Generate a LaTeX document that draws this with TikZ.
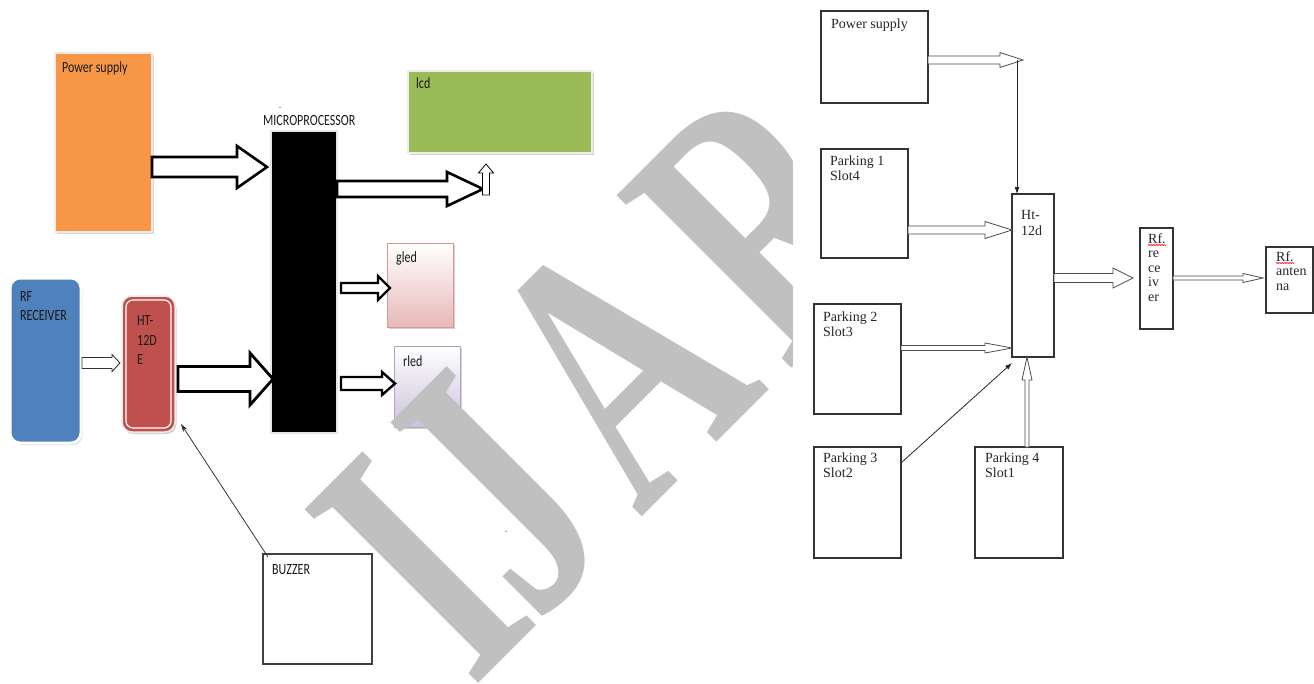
\documentclass[tikz,border=0pt]{standalone}
\usepackage{fontspec}
\setmainfont{Liberation Serif}
\newfontfamily\calfont{Carlito}
\usetikzlibrary{arrows.meta,calc,shadows,decorations.pathmorphing}

\definecolor{psorange}{HTML}{F79646}
\definecolor{lcdgreen}{HTML}{9BBB59}
\definecolor{rfblue}{HTML}{4F81BD}
\definecolor{htred}{HTML}{C0504D}
\definecolor{gledpink}{HTML}{E6B9B8}
\definecolor{gledline}{HTML}{D99694}
\definecolor{rledlav}{HTML}{CCC1DA}
\definecolor{rledline}{HTML}{B3A2C7}
\definecolor{wmgrey}{HTML}{C0C0C0}
\definecolor{boxline}{HTML}{333333}

% outlined block arrow pointing right: [style]{tail}{tip}{shaft half}{head half}{head length}
\newcommand{\harrow}[6][]{%
  \draw[#1] let \p1=(#2), \p2=(#3) in
    (\x1,\y1+#4pt) -- (\x2-#6pt,\y1+#4pt) -- (\x2-#6pt,\y1+#5pt) -- (\x2,\y1)
    -- (\x2-#6pt,\y1-#5pt) -- (\x2-#6pt,\y1-#4pt) -- (\x1,\y1-#4pt) -- cycle;}
% outlined block arrow pointing up
\newcommand{\varrow}[6][]{%
  \draw[#1] let \p1=(#2), \p2=(#3) in
    (\x1-#4pt,\y1) -- (\x1-#4pt,\y2-#6pt) -- (\x1-#5pt,\y2-#6pt) -- (\x1,\y2)
    -- (\x1+#5pt,\y2-#6pt) -- (\x1+#4pt,\y2-#6pt) -- (\x1+#4pt,\y1) -- cycle;}

\tikzset{
  officebox/.style={anchor=north west, inner sep=0pt, outer sep=0pt,
    draw=black!7, line width=2.5pt,
    drop shadow={shadow xshift=1.5pt, shadow yshift=-2pt, fill=black!35, opacity=0.5}},
  ledbox/.style={anchor=north west, inner sep=0pt, outer sep=0pt, line width=1pt,
    drop shadow={shadow xshift=1.5pt, shadow yshift=-2pt, fill=black!35, opacity=0.5}},
  plainbox/.style={anchor=north west, inner sep=0pt, outer sep=0pt,
    draw=boxline, line width=1.2pt},
  ltext/.style={anchor=base west, inner sep=0pt, font=\calfont\fontsize{12}{14}\selectfont,
    yscale=1.3, text=black!90},
  rtext/.style={anchor=base west, inner sep=0pt, font=\fontsize{14}{15}\selectfont, text=black!85},
  boldarrow/.style={draw=black, fill=white, line join=miter, line width=2.6pt},
  outlinearrow/.style={draw=black!70, fill=white, line join=miter, line width=0.8pt},
  thinarrow/.style={draw=black!85, line width=0.8pt, -{Latex[length=7pt,width=5pt]}},
  wm/.style={font=\fontsize{375}{375}\bfseries\selectfont, text=wmgrey, inner sep=0pt,
    anchor=base, rotate=45, xscale=0.68},
  spell/.style={draw=red, line width=0.5pt, decorate,
    decoration={zigzag, amplitude=0.5pt, segment length=1.6pt}}
}

\begin{document}
\begin{tikzpicture}[x=1pt,y=-1pt]
\useasboundingbox (0,0) rectangle (1314,683);
\fill[white] (0,0) rectangle (1314,683);

% ---------------- receiver side ----------------
\node[officebox, fill=psorange, minimum width=97, minimum height=179] (ps) at (55,53) {};
\node[ltext] (pst) at (62,72) {Power supply};

\node[anchor=north west, inner sep=0pt, outer sep=0pt, fill=black, draw=black!10,
      line width=2.5pt, minimum width=66, minimum height=302] (mp) at (271,131) {};
\node[ltext] (mpt) at (263,125) {MICROPROCESSOR};
\node[ltext, font=\calfont\fontsize{8}{8}\selectfont] (mpdot) at (279,108) {.};

\node[officebox, fill=lcdgreen, minimum width=184, minimum height=82] (lcd) at (408,71) {};
\node[ltext] (lcdt) at (416,88) {lcd};

\node[ledbox, draw=gledline, top color=white, bottom color=gledpink,
      minimum width=66, minimum height=84] (gled) at (387,243) {};
\node[ltext] (gledt) at (396,262) {gled};

\node[ledbox, draw=rledline, top color=white, bottom color=rledlav,
      minimum width=66, minimum height=81] (rled) at (394,346) {};
\node[ltext] (rledt) at (403,366) {rled};

\node[officebox, fill=rfblue, rounded corners=10pt, draw=white, line width=3pt,
      minimum width=71, minimum height=165] (rf) at (10,278) {};
\node[ltext] (rft1) at (20,301) {RF};
\node[ltext] (rft2) at (20,320) {RECEIVER};

\node[officebox, fill=htred, rounded corners=10pt, draw=black!8, line width=1.5pt,
      minimum width=53, minimum height=136] (ht) at (122,296) {};
\draw[white, line width=1.2pt, rounded corners=7pt]
  ($(ht.north west)+(4,4)$) rectangle ($(ht.south east)+(-4,-4)$);
\node[ltext] (htt1) at (137,325) {HT-};
\node[ltext] (htt2) at (137,345) {12D};
\node[ltext] (htt3) at (137,364) {E};

\node[plainbox, draw=black!75, line width=1.1pt, minimum width=109, minimum height=110] (bz) at (263,554) {};
\node[ltext] (bzt) at (272,574) {BUZZER};
\node[ltext, font=\calfont\fontsize{8}{8}\selectfont] (dot2) at (505,532) {.};

% block arrows of the receiver side
\coordinate (a1t) at ($(ps.east)+(0,24.5)$);
\coordinate (a1h) at ($(mp.west |- a1t)+(-4,0)$);
\harrow[boldarrow]{a1t}{a1h}{10}{21}{30}

\coordinate (a2t) at ($(mp.east)+(0,-93)$);
\coordinate (a2h) at ($(lcd.south west)+(75,36)$);
\harrow[boldarrow]{a2t}{a2h}{8}{17}{36}

\coordinate (a3t) at ($(lcd.south)+(-14,42)$);
\coordinate (a3h) at ($(lcd.south)+(-14,11)$);
\varrow[boldarrow, line width=0.8pt]{a3t}{a3h}{3.5}{7.5}{9}

\coordinate (a4t) at ($(mp.east)+(4,6)$);
\coordinate (a4h) at ($(gled.west |- a4t)+(3,0)$);
\harrow[boldarrow, line width=2.4pt]{a4t}{a4h}{5}{12}{12}

\coordinate (a5t) at ($(mp.east)+(4,101.5)$);
\coordinate (a5h) at ($(rled.west |- a5t)+(1,0)$);
\harrow[boldarrow, line width=2.4pt]{a5t}{a5h}{6.5}{11.5}{13}

\coordinate (a6t) at ($(rf.east)+(1,2.5)$);
\coordinate (a6h) at ($(ht.west |- a6t)+(-2,0)$);
\harrow[outlinearrow, draw=black!80, line width=0.9pt]{a6t}{a6h}{5.5}{8.5}{8}

\coordinate (a7t) at ($(ht.east)+(3,15)$);
\coordinate (a7h) at ($(mp.west |- a7t)+(2,0)$);
\harrow[boldarrow, line width=2.8pt]{a7t}{a7h}{12.5}{26}{23}

\draw[draw=black!80, line width=0.8pt, -{Stealth[length=8pt,width=5pt]}]
  ($(bz.north west)+(5,3)$) -- ($(ht.south east)+(6,-8)$);

% ---------------- watermark ----------------
\node[wm] (wmi) at (508,654) {I};
\node[wm] (wmj) at (581,580) {J};
\node[wm] (wma) at (706,453) {A};
\node[wm] (wmr) at (853,307) {R};

\fill[white] (793,0) rectangle (1314,575);

% ---------------- transmitter side ----------------
\node[plainbox, minimum width=107, minimum height=92] (rps) at (821,11) {};
\node[rtext] (rpst) at (831,28) {Power supply};

\node[plainbox, minimum width=87, minimum height=109] (p1) at (821,149) {};
\node[rtext] (p1t1) at (830,165) {Parking 1};
\node[rtext] (p1t2) at (830,180) {Slot4};

\node[plainbox, minimum width=87, minimum height=110] (p2) at (814,304) {};
\node[rtext] (p2t1) at (823,321) {Parking 2};
\node[rtext] (p2t2) at (823,336) {Slot3};

\node[plainbox, minimum width=87, minimum height=111] (p3) at (814,447) {};
\node[rtext] (p3t1) at (823,462) {Parking 3};
\node[rtext] (p3t2) at (823,477) {Slot2};

\node[plainbox, minimum width=88, minimum height=111] (p4) at (975,447) {};
\node[rtext] (p4t1) at (985,462) {Parking 4};
\node[rtext] (p4t2) at (985,477) {Slot1};

\node[plainbox, minimum width=42, minimum height=163] (hd) at (1012,194) {};
\node[rtext] (hdt1) at (1021,219) {Ht-};
\node[rtext] (hdt2) at (1021,235) {12d};

\node[plainbox, minimum width=33, minimum height=101] (rfr) at (1140,228) {};
\node[rtext] (rfr1) at (1148,243) {Rf.};
\node[rtext] (rfr2) at (1148,257.5) {re};
\node[rtext] (rfr3) at (1148,272) {ce};
\node[rtext] (rfr4) at (1148,286.5) {iv};
\node[rtext] (rfr5) at (1148,301) {er};
\draw[spell] ($(rfr1.base west)+(0,2)$) -- ($(rfr1.base east)+(0,2)$);

\node[plainbox, minimum width=47, minimum height=66] (rfa) at (1266,247) {};
\node[rtext] (rfa1) at (1276,261) {Rf.};
\node[rtext] (rfa2) at (1276,275.5) {anten};
\node[rtext] (rfa3) at (1276,290) {na};
\draw[spell] ($(rfa1.base west)+(0,2)$) -- ($(rfa1.base east)+(0,2)$);

% outlined arrows of the transmitter side
\coordinate (r1t) at ($(rps.east)+(0,3)$);
\coordinate (r1h) at ($(hd.north west |- r1t)+(11,0)$);
\harrow[outlinearrow]{r1t}{r1h}{4}{7.5}{23}

\coordinate (r2t) at ($(p1.east)+(0,26.5)$);
\coordinate (r2h) at (hd.west |- r2t);
\harrow[outlinearrow]{r2t}{r2h}{4}{8.5}{27}

\coordinate (r3t) at ($(p2.east)+(0,-11)$);
\coordinate (r3h) at (hd.west |- r3t);
\harrow[outlinearrow]{r3t}{r3h}{2.5}{5}{27}

\coordinate (r4t) at ($(hd.east)+(0,2.5)$);
\coordinate (r4h) at ($(rfr.west |- r4t)+(-7,0)$);
\harrow[outlinearrow]{r4t}{r4h}{4.5}{10}{20}

\coordinate (r5t) at ($(rfr.east)+(0,-0.5)$);
\coordinate (r5h) at ($(rfa.west |- r5t)+(-3,0)$);
\harrow[outlinearrow]{r5t}{r5h}{2}{4.5}{20}

\coordinate (r6t) at ($(p4.north)+(8,0)$);
\coordinate (r6h) at (hd.south -| r6t);
\varrow[outlinearrow]{r6t}{r6h}{2}{5}{23}

\coordinate (hdin) at ($(hd.north west)+(5,0)$);
\draw[thinarrow] (hdin |- r1h) -- (hdin);
\draw[thinarrow] ($(p3.north east)+(1,15)$) -- ($(hd.south west)+(0,6)$);
\end{tikzpicture}
\end{document}
